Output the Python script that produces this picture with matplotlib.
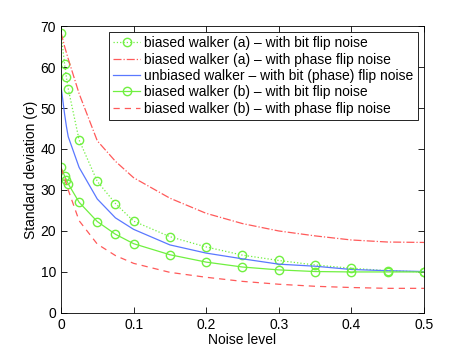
import matplotlib
matplotlib.use("Agg")
import matplotlib.pyplot as plt
import numpy as np

plt.rcParams['font.family'] = ['Liberation Sans', 'DejaVu Sans']

# Rauschlevel (x-Werte)
noise = [0, 0.005, 0.0075, 0.01, 0.025, 0.05, 0.075, 0.1,
         0.15, 0.2, 0.25, 0.3, 0.35, 0.4, 0.45, 0.5]

# Standardabweichungen
biased_a_bit = [68.4, 60.7, 57.5, 54.7, 42.2, 32.1, 26.7, 22.4,
                18.6, 16.1, 14.1, 12.8, 11.7, 10.9, 10.3, 10.0]
biased_a_phase = [68.5, 65.0, 63.5, 62.0, 53.5, 42.0, 37.0, 33.0,
                  28.0, 24.3, 21.8, 20.0, 18.8, 17.8, 17.3, 17.2]
unbiased = [55.4, 48.5, 45.5, 43.0, 35.5, 27.8, 23.2, 20.4,
            16.6, 14.6, 13.2, 11.9, 11.4, 10.6, 10.3, 10.1]
biased_b_bit = [35.5, 33.4, 32.5, 31.5, 27.0, 22.3, 19.2, 16.9,
                14.2, 12.4, 11.2, 10.5, 10.1, 10.0, 10.0, 10.0]
biased_b_phase = [35.4, 33.0, 31.5, 30.0, 22.5, 16.8, 14.0, 12.1,
                  9.9, 8.7, 7.7, 7.0, 6.5, 6.2, 6.0, 6.0]

labels = [
    "biased walker (a) \u2013 with bit flip noise",
    "biased walker (a) \u2013 with phase flip noise",
    "unbiased walker \u2013 with bit (phase) flip noise",
    "biased walker (b) \u2013 with bit flip noise",
    "biased walker (b) \u2013 with phase flip noise",
]

green = '#70f040'
red = '#ff5a5a'
blue = '#5a78ff'

fig = plt.figure(figsize=(4.69, 3.52), dpi=100)
ax = fig.add_axes([0.130, 0.111, 0.774, 0.815])

ax.plot(noise, biased_a_bit, ':', color=green, lw=0.9, marker='o',
        mfc='none', mec=green, ms=6, label=labels[0])
ax.plot(noise, biased_a_phase, '-.', color=red, lw=0.9, label=labels[1])
ax.plot(noise, unbiased, '-', color=blue, lw=0.9, label=labels[2])
ax.plot(noise, biased_b_bit, '-', color=green, lw=0.9, marker='o',
        mfc='none', mec=green, ms=6, label=labels[3])
ax.plot(noise, biased_b_phase, '--', color=red, lw=0.9, dashes=(5, 4), label=labels[4])

ax.set_xlim(0, 0.5)
ax.set_ylim(0, 70)
ax.set_xticks(np.arange(0, 0.51, 0.1))
ax.set_xticklabels(["0", "0.1", "0.2", "0.3", "0.4", "0.5"])
ax.set_yticks(range(0, 71, 10))
ax.tick_params(direction='in', top=True, right=True, labelsize=10, length=4, width=0.6)
for s in ax.spines.values():
    s.set_linewidth(0.6)

ax.set_xlabel("Noise level", fontsize=10, labelpad=1)
ax.set_ylabel("Standard deviation (\u03c3)", fontsize=10, labelpad=2)

# Legende wie bei MATLAB: ein Marker pro Eintrag
leg = ax.legend(loc='upper right', bbox_to_anchor=(0.983, 0.979), fontsize=10,
                handlelength=1.95, handletextpad=0.3, borderpad=0.3,
                labelspacing=0.17, fancybox=False, framealpha=1, numpoints=1,
                edgecolor='black', borderaxespad=0.0)
leg.get_frame().set_linewidth(0.6)

fig.savefig("out.png", dpi=100)
